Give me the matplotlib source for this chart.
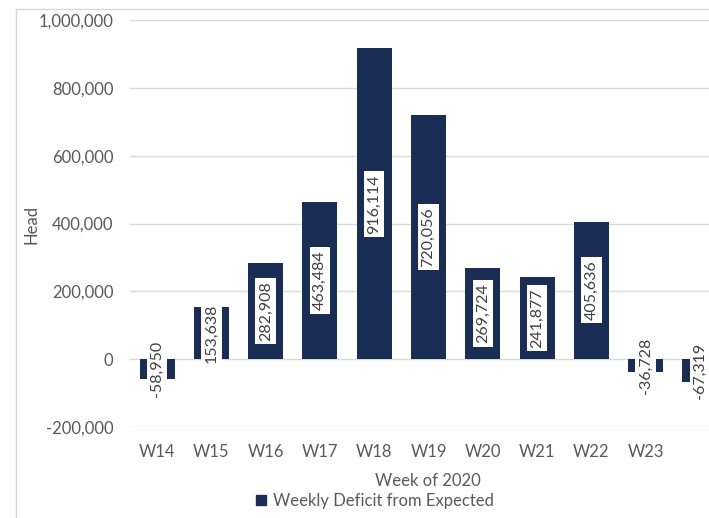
import matplotlib
matplotlib.use("Agg")
import matplotlib.pyplot as plt
from matplotlib.patches import Patch
from matplotlib.lines import Line2D

weeks = ["W14", "W15", "W16", "W17", "W18", "W19", "W20", "W21", "W22", "W23", ""]
deficit = [-58950, 153638, 282908, 463484, 916114, 720056, 269724, 241877, 405636, -36728, -67319]
y_ticks = [-200000, 0, 200000, 400000, 600000, 800000, 1000000]

BAR = "#1a2d55"
GRID = "#d9d9d9"
TXT = "#595959"

plt.rcParams['font.family'] = ['Lato', 'DejaVu Sans']

W, H = 709, 518
fig = plt.figure(figsize=(W / 100, H / 100), dpi=100)
left, right, top, bottom = 130, 727, 20, 427
ax = fig.add_axes([left / W, 1 - bottom / H, (right - left) / W, (bottom - top) / H])

x = list(range(len(weeks)))
ax.bar(x, deficit, width=0.645, color=BAR, zorder=2)
for xi, v in zip(x, deficit):
    ax.text(xi, v / 2, f"{v:,}", rotation=90, ha='center', va='center',
            fontsize=11.5, color="#404040", zorder=3,
            bbox=dict(facecolor='white', edgecolor='none', boxstyle='square,pad=0.2'))

ax.set_xlim(-0.5, len(weeks) - 0.5)
ax.set_ylim(-200000, 1000000)
ax.set_yticks(y_ticks)
ax.set_yticklabels([f"{t:,}" for t in y_ticks])
ax.set_xticks(x)
ax.set_xticklabels(weeks)
ax.yaxis.grid(True, color=GRID, lw=1, zorder=0)
ax.set_axisbelow(True)
for s in ax.spines.values():
    s.set_visible(False)
ax.tick_params(axis='both', length=0, labelsize=12, labelcolor=TXT)
ax.tick_params(axis='y', pad=12)
ax.tick_params(axis='x', pad=12)

fig.text(31 / W, 1 - 224 / H, "Head", rotation=90, ha='center', va='center', fontsize=12, color=TXT)
fig.text(428 / W, 1 - 481 / H, "Week of 2020", ha='center', va='center', fontsize=12, color=TXT)

fig.legend(handles=[Patch(facecolor=BAR, edgecolor=BAR, label="Weekly Deficit from Expected")],
           loc='center', bbox_to_anchor=(375 / W, 1 - 501 / H), frameon=False,
           fontsize=12, labelcolor=TXT, handlelength=0.6, handleheight=0.6, handletextpad=0.4)

# chart frame (partially visible)
fig.add_artist(Line2D([16 / W, 16 / W], [0, 1 - 9 / H], transform=fig.transFigure, color=GRID, lw=1))
fig.add_artist(Line2D([16 / W, 1], [1 - 9 / H, 1 - 9 / H], transform=fig.transFigure, color=GRID, lw=1))

fig.savefig("out.png", dpi=100)
